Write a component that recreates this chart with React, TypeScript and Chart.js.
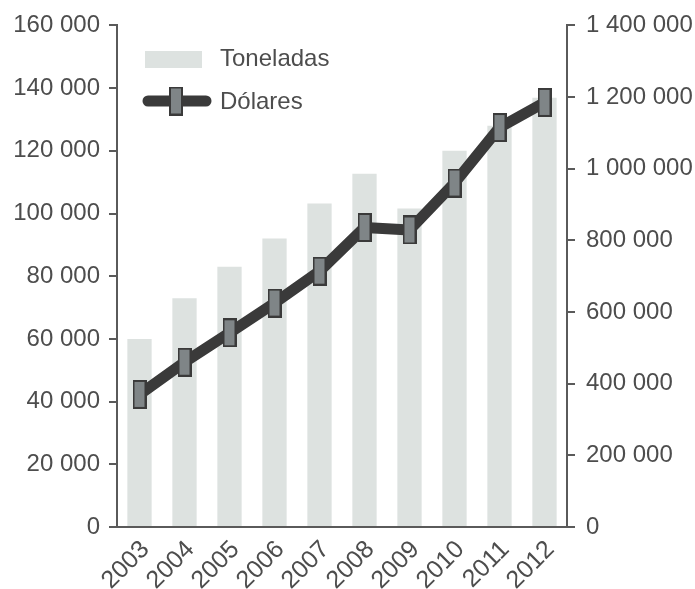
import React, { useEffect, useRef } from "react";
import { Chart, registerables } from "chart.js";

Chart.register(...registerables);

const years = ["2003", "2004", "2005", "2006", "2007", "2008", "2009", "2010", "2011", "2012"];
const toneladas = [60000, 73000, 83000, 92000, 103200, 112700, 101600, 120000, 128000, 136900];
const dolares = [370000, 460000, 542000, 625000, 714000, 836000, 829000, 960000, 1115000, 1185000];
const leftTicks = [0, 20000, 40000, 60000, 80000, 100000, 120000, 140000, 160000];
const rightTicks = [0, 200000, 400000, 600000, 800000, 1000000, 1200000, 1400000];
const legendLabels = ["Toneladas", "Dólares"];

const FONT = "'Liberation Sans', Arial, Helvetica, sans-serif";
const TEXT = "#4d4d4d";
const AXIS = "#5a5a5a";
const BAR = "#dde2e0";
const LINE = "#3a3a3a";
const MARK_FILL = "#7f8587";

const fmt = (v: number) => String(v).replace(/\B(?=(\d{3})+(?!\d))/g, " ");

function makeMarker(): HTMLCanvasElement {
  const c = document.createElement("canvas");
  c.width = 14;
  c.height = 29;
  const g = c.getContext("2d")!;
  g.fillStyle = LINE;
  g.fillRect(0, 0, 14, 29);
  g.fillStyle = MARK_FILL;
  g.fillRect(2, 2, 10, 25);
  return c;
}

export default function App() {
  const ref = useRef<HTMLCanvasElement | null>(null);

  useEffect(() => {
    const canvas = ref.current;
    if (!canvas) return;
    const marker = makeMarker();

    const legendPlugin = {
      id: "customLegend",
      afterDraw(chart: any) {
        const ctx = chart.ctx;
        ctx.save();
        ctx.fillStyle = BAR;
        ctx.fillRect(145, 51, 57, 17);
        ctx.strokeStyle = LINE;
        ctx.lineWidth = 11;
        ctx.lineCap = "round";
        ctx.beginPath();
        ctx.moveTo(148, 101);
        ctx.lineTo(206, 101);
        ctx.stroke();
        ctx.drawImage(marker, 176 - 7, 101 - 14.5);
        ctx.fillStyle = TEXT;
        ctx.font = `24px ${FONT}`;
        ctx.textBaseline = "middle";
        ctx.textAlign = "left";
        ctx.fillText(legendLabels[0], 220, 59);
        ctx.fillText(legendLabels[1], 220, 102);
        ctx.restore();
      },
    };

    const chart = new Chart(canvas, {
      type: "bar",
      data: {
        labels: years,
        datasets: [
          {
            type: "line",
            label: legendLabels[1],
            data: dolares,
            yAxisID: "y1",
            borderColor: LINE,
            borderWidth: 11,
            borderCapStyle: "round",
            borderJoinStyle: "round",
            pointStyle: marker as any,
            pointRadius: 10,
            pointHoverRadius: 10,
            tension: 0,
            order: 0,
          } as any,
          {
            type: "bar",
            label: legendLabels[0],
            data: toneladas,
            yAxisID: "y",
            backgroundColor: BAR,
            barPercentage: 0.54,
            categoryPercentage: 1,
            order: 1,
          },
        ],
      },
      options: {
        responsive: false,
        animation: false,
        layout: { padding: { top: 6, left: 0, right: 0, bottom: 0 } },
        plugins: { legend: { display: false }, tooltip: { enabled: false } },
        scales: {
          x: {
            offset: true,
            grid: { display: false, offset: true },
            border: { display: true, color: AXIS, width: 2 },
            ticks: {
              color: TEXT,
              font: { family: FONT, size: 25 },
              maxRotation: 45,
              minRotation: 45,
              padding: 0,
              labelOffset: 6,
              autoSkip: false,
            },
            afterFit: (s: any) => {
              s.height = 62;
            },
          },
          y: {
            position: "left",
            min: 0,
            max: 160000,
            afterBuildTicks: (s: any) => {
              s.ticks = leftTicks.map((v) => ({ value: v }));
            },
            grid: { drawOnChartArea: false, drawTicks: true, tickLength: 8, color: AXIS, lineWidth: 2 },
            border: { display: true, color: AXIS, width: 2 },
            ticks: {
              color: TEXT,
              font: { family: FONT, size: 24 },
              padding: 9,
              callback: (v: any) => fmt(Number(v)),
            },
            afterFit: (s: any) => {
              s.width = 117;
            },
          },
          y1: {
            position: "right",
            min: 0,
            max: 1400000,
            afterBuildTicks: (s: any) => {
              s.ticks = rightTicks.map((v) => ({ value: v }));
            },
            grid: { drawOnChartArea: false, drawTicks: true, tickLength: 8, color: AXIS, lineWidth: 2 },
            border: { display: true, color: AXIS, width: 2 },
            ticks: {
              color: TEXT,
              font: { family: FONT, size: 24 },
              padding: 11,
              callback: (v: any) => fmt(Number(v)),
            },
            afterFit: (s: any) => {
              s.width = 128;
            },
          },
        },
      },
      plugins: [legendPlugin],
    });

    return () => chart.destroy();
  }, []);

  return (
    <div style={{ position: "absolute", left: 0, top: 0, width: 695, height: 589, background: "#fff" }}>
      <canvas ref={ref} width={695} height={589} />
    </div>
  );
}
